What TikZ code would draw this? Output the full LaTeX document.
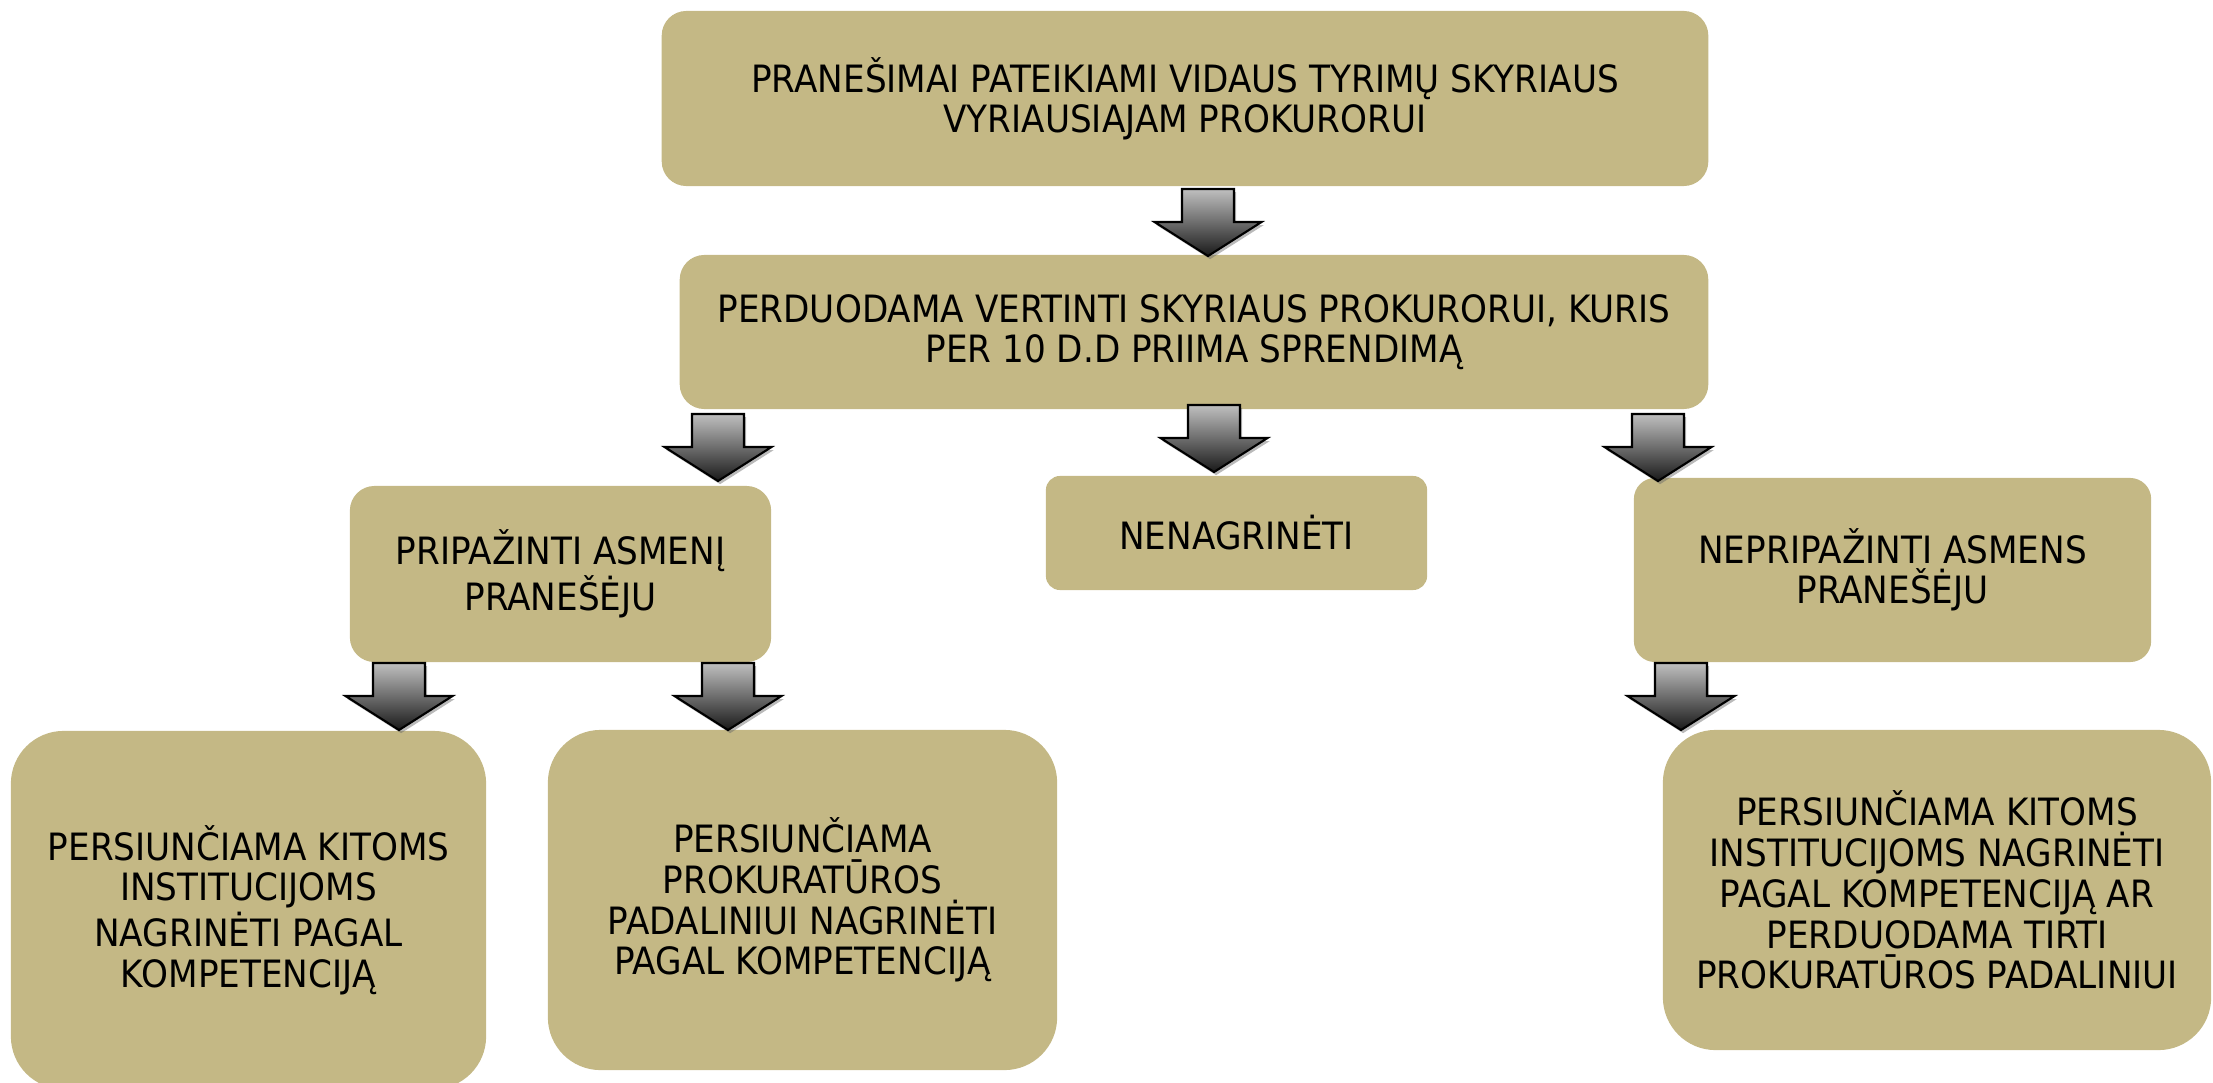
\documentclass[tikz,border=0pt]{standalone}
\usepackage{fontspec}
\setmainfont[FakeStretch=0.91]{DejaVu Sans}
\usetikzlibrary{shadows}
\definecolor{tan}{RGB}{196,184,133}
\tikzset{
  box/.style={fill=tan, draw=none, align=center, inner sep=0pt,
    font=\fontsize{10.7}{11.4}\selectfont},
  bigbox/.style={box, rounded corners=15pt, font=\fontsize{10.7}{11.6}\selectfont},
  blockarrow/.pic={
    \path[draw=black, line width=0.6pt, top color=black!25, bottom color=black!90,
      drop shadow={shadow xshift=0.6pt, shadow yshift=-0.9pt, opacity=0.45, fill=black!60}]
      (-26,0) -- (26,0) -- (26,33) -- (53.5,33) -- (0,67) -- (-53.5,33) -- (-26,33) -- cycle;
  }
}
\begin{document}
\begin{tikzpicture}[x=0.01cm, y=-0.01cm]
\useasboundingbox (0,0) rectangle (2213,1082);

\node[box, rounded corners=7pt, minimum width=10.46cm, minimum height=1.75cm] (b1) at (1185,98.5)
  {PRANEŠIMAI PATEIKIAMI VIDAUS TYRIMŲ SKYRIAUS\\VYRIAUSIAJAM PROKURORUI};
\node[box, rounded corners=7pt, minimum width=10.28cm, minimum height=1.54cm] (b2) at (1194,332)
  {PERDUODAMA VERTINTI SKYRIAUS PROKURORUI, KURIS\\PER 10 D.D PRIIMA SPRENDIMĄ};
\node[box, rounded corners=7pt, minimum width=4.21cm, minimum height=1.76cm] (b3) at (560.5,574)
  {PRIPAŽINTI ASMENĮ\\PRANEŠĖJU};
\node[box, rounded corners=4pt, minimum width=3.81cm, minimum height=1.14cm] (b4) at (1236.5,533)
  {NENAGRINĖTI};
\node[box, rounded corners=6pt, minimum width=5.17cm, minimum height=1.84cm] (b5) at (1892.5,570)
  {NEPRIPAŽINTI ASMENS\\PRANEŠĖJU};
\node[bigbox, minimum width=4.75cm, minimum height=3.58cm] (b6) at (248.5,910)
  {PERSIUNČIAMA KITOMS\\INSTITUCIJOMS\\NAGRINĖTI PAGAL\\KOMPETENCIJĄ};
\node[bigbox, minimum width=5.09cm, minimum height=3.40cm] (b7) at (802.5,900)
  {PERSIUNČIAMA\\PROKURATŪROS\\PADALINIUI NAGRINĖTI\\PAGAL KOMPETENCIJĄ};
\node[bigbox, minimum width=5.48cm, minimum height=3.20cm] (b8) at (1937,890)
  {PERSIUNČIAMA KITOMS\\INSTITUCIJOMS NAGRINĖTI\\PAGAL KOMPETENCIJĄ AR\\PERDUODAMA TIRTI\\PROKURATŪROS PADALINIUI};

\coordinate (a1) at (1208,189);
\coordinate (a2) at (718,414);
\coordinate (a3) at (1214,405);
\coordinate (a4) at (1658,414);
\coordinate (a5) at (399,663);
\coordinate (a6) at (728,663);
\coordinate (a7) at (1681,663);
\foreach \c in {a1,a2,a3,a4,a5,a6,a7} { \pic at (\c) {blockarrow}; }
\end{tikzpicture}
\end{document}
